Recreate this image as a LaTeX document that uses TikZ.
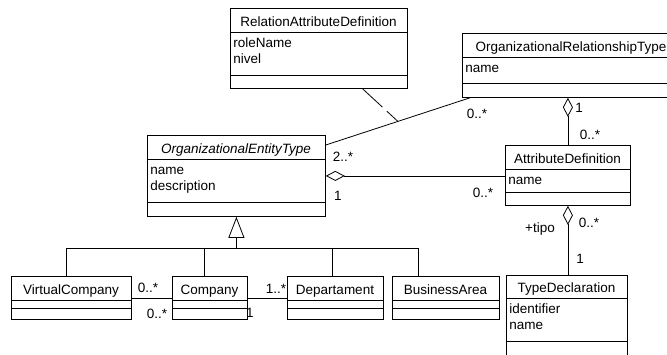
\documentclass[tikz,border=0pt]{standalone}
\usepackage{fontspec}
\setmainfont{Liberation Sans}
\usetikzlibrary{arrows.meta}

% class box: name, left, top, right, header bottom, attribute bottom, bottom, title, attributes
\newcommand{\umlclass}[9]{%
  \node[classbox, minimum width=#4pt-#2pt, minimum height=#7pt-#3pt] (#1) at (#2,#3) {};
  \draw (#2,#5) -- (#4,#5) (#2,#6) -- (#4,#6);
  \node[classtitle] (#1-title) at ({(#2+#4)/2},#5-6) {#8};
  \if\relax\detokenize{#9}\relax\else
    \node[classattrs] (#1-attrs) at (#2,#5) {\strut #9};
  \fi
}

\begin{document}
\begin{tikzpicture}[x=1pt, y=-1pt, line width=.8pt,
  every node/.style={font=\fontsize{13.5}{16}\selectfont},
  classbox/.style={draw, rectangle, anchor=north west, inner sep=0pt},
  classtitle/.style={anchor=base, inner sep=0pt},
  classattrs/.style={anchor=north west, align=left, inner xsep=3pt, inner ysep=4.3pt},
  mult/.style={anchor=base, inner sep=0pt},
  aggr/.style={{Diamond[open,length=19pt,width=10pt]}-},
  inherit/.style={-{Triangle[open,length=21pt,width=16pt]}},
  assocclass/.style={dash pattern=on 27pt off 6pt}]
\useasboundingbox (0,0) rectangle (667,354);

\umlclass{rad}{230}{8}{407}{32}{75}{88}{RelationAttributeDefinition}{roleName\\nivel}
\umlclass{ort}{462}{33}{680}{57}{83}{97}{OrganizationalRelationshipType}{name}
\umlclass{oet}{147}{135}{325}{159}{202}{216}{\itshape OrganizationalEntityType}{name\\description}
\umlclass{ad}{505}{145}{630}{169}{192}{205}{AttributeDefinition}{name}
\umlclass{td}{506}{275}{627}{298}{341}{365}{TypeDeclaration}{identifier\\name}
\umlclass{vc}{11}{276}{131}{300}{308}{319}{VirtualCompany}{}
\umlclass{co}{172}{276}{247}{300}{308}{319}{Company}{}
\umlclass{dep}{287}{276}{383}{300}{308}{319}{Departament}{}
\umlclass{ba}{392}{276}{499}{300}{308}{319}{BusinessArea}{}

% generalization
\coordinate (genbar) at ([yshift=-32pt]oet.south);
\draw[inherit] (genbar) -- (oet.south);
\draw ([xshift=-5pt]vc.north) |- ([xshift=-27.5pt]ba.north |- genbar) -- ([xshift=-27.5pt]ba.north);
\draw ([xshift=-5.5pt]co.north) -- ([xshift=-5.5pt]co.north |- genbar);
\draw ([xshift=-3pt]dep.north) -- ([xshift=-3pt]dep.north |- genbar);

% associations
\draw (vc.east) -- (vc.east -| co.west);
\draw (co.east) -- (co.east -| dep.west);
\draw ([yshift=-10pt]oet.north east) -- coordinate[pos=.5] (rmid) ([xshift=8pt]ort.south west);
\draw[assocclass] (rad) -- (rmid);

% aggregations
\draw[aggr] (oet.east) -- (oet.east -| ad.west);
\draw[aggr] (ad.north |- ort.south) -- (ad.north);
\draw[aggr] (ad.south) -- (ad.south |- td.north);

% multiplicities
\node[mult] (m-vc) at (148,292) {0..*};
\node[mult] (m-covc) at (157,318) {0..*};
\node[mult] (m-dep) at (276,293) {1..*};
\node[mult] (m-codep) at (250,317) {1};
\node[mult] (m-oet) at (343,161) {2..*};
\node[mult] (m-ort) at (477,118) {0..*};
\node[mult] (m-oetad) at (338,200) {1};
\node[mult] (m-adoet) at (483,197) {0..*};
\node[mult] (m-ortad) at (579,112) {1};
\node[mult] (m-adort) at (590,139) {0..*};
\node[mult] (m-tipo) at (540,232) {+tipo};
\node[mult] (m-adtd) at (589,227) {0..*};
\node[mult] (m-td) at (580,263) {1};
\end{tikzpicture}
\end{document}
